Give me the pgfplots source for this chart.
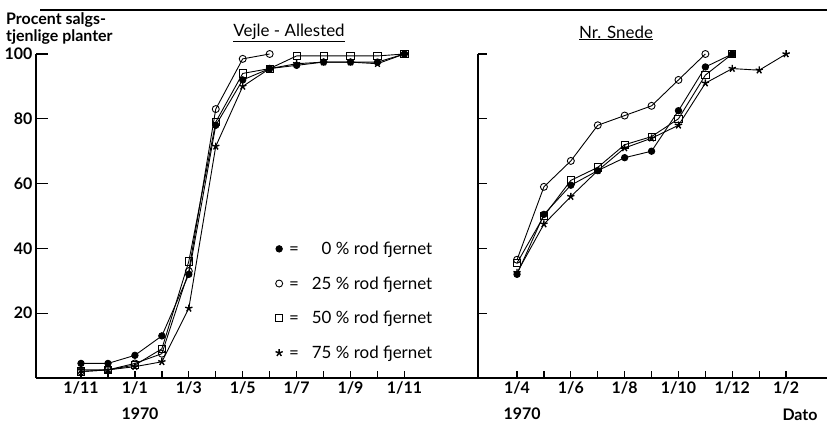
\documentclass[border=0pt]{standalone}
\usepackage{fontspec}
\setmainfont{Lato}
\usepackage{pgfplots}
\pgfplotsset{compat=1.18}
\pgfplotsset{
  panel/.style={
    scale only axis, anchor=south west, height=324bp,
    ymin=0, ymax=100, axis lines*=left,
    axis line style={line width=1.6pt,-},
    tick align=inside, xtick pos=bottom, ytick pos=left,
    ytick={20,40,60,80,100},
    minor tick length=7bp,
    tick style={black, line width=1.3pt},
    major x tick style={draw=none},
    tick label style={font=\fontsize{16}{18}\selectfont\bfseries},
    /pgf/number format/assume math mode=true,
    clip=false,
    every axis plot/.append style={black, line width=0.9pt, mark size=3.2bp},
  },
  s0/.style={mark=*, mark options={solid, fill=black}},
  s25/.style={mark=o, mark size=3.5bp, mark options={solid, fill=white}},
  s50/.style={mark=square, mark size=3.6bp, mark options={solid, fill=white}},
  s75/.style={mark=star, mark size=3.8bp, mark options={solid, line width=1.4pt}},
}
\begin{document}
\begin{tikzpicture}
\path[use as bounding box] (0,0) rectangle (827bp,425bp);
% left panel: Vejle - Allested (x = months after 1/11 1969)
\begin{axis}[panel, at={(36bp,47bp)}, width=442bp,
  xmin=-1.67, xmax=14.73, major tick length=12bp,
  xtick={0,2,...,12}, xticklabels={1/11,1/1,1/3,1/5,1/7,1/9,1/11},
  minor xtick={0,1,...,12},
  yticklabels={20,40,60,80,100},
  legend cell align=left,
  legend style={at={(axis cs:7.1,43.3)}, anchor=north west, draw=none, fill=none,
    font=\fontsize{17}{19}\selectfont, row sep=16.7bp},
]
\addlegendimage{only marks, s0, black, mark size=3.2bp}
\addlegendentry{\ =\ \ \ \phantom{2}0 \% rod fjernet}
\addlegendimage{only marks, s25, black}
\addlegendentry{\ =\ \ \ 25 \% rod fjernet}
\addlegendimage{only marks, s50, black}
\addlegendentry{\ =\ \ \ 50 \% rod fjernet}
\addlegendimage{only marks, s75, black}
\addlegendentry{\ =\ \ \ 75 \% rod fjernet}
\addplot[s0, forget plot] coordinates {(0,4.5)(1,4.5)(2,7)(3,13)(4,32)(5,78)(6,92)(7,95.5)(8,96.5)(9,97.5)(10,97.5)(11,97.5)(12,100)};
\addplot[s25, forget plot] coordinates {(0,2)(1,2.5)(2,4.5)(3,7.5)(4,33)(5,83)(6,98.5)(7,100)};
\addplot[s50, forget plot] coordinates {(0,2)(1,2.5)(2,4)(3,9)(4,36)(5,79)(6,94)(7,95.5)(8,99.4)(9,99.4)(10,99.4)(11,99.4)(12,100)};
\addplot[s75, forget plot] coordinates {(0,2.5)(1,2.5)(2,3.5)(3,5)(4,21.5)(5,71.5)(6,90)(7,95.5)(8,97)(9,97.5)(10,97.5)(11,97)(12,100)};
\node[font=\fontsize{17}{19}\selectfont] at (axis cs:7.72,106.5) {\underline{Vejle - Allested}};
\end{axis}
% right panel: Nr. Snede (x = months after 1/4 1970)
\begin{axis}[panel, at={(478bp,47bp)}, width=349bp,
  xmin=-1.45, xmax=11.52, major tick length=9bp,
  xtick={0,2,...,10}, xticklabels={1/4,1/6,1/8,1/10,1/12,1/2},
  minor xtick={0,1,...,10},
  yticklabels={},
]
\addplot[s0] coordinates {(0,32)(1,50.5)(2,59.5)(3,64)(4,68)(5,70)(6,82.5)(7,96)(8,100)};
\addplot[s25] coordinates {(0,36.5)(1,59)(2,67)(3,78)(4,81)(5,84)(6,92)(7,100)};
\addplot[s50] coordinates {(0,35.5)(1,50)(2,61)(3,65)(4,72)(5,74.5)(6,80)(7,93.5)(8,100)};
\addplot[s75] coordinates {(0,32.5)(1,47.5)(2,56)(3,64)(4,71)(5,74)(6,78)(7,91)(8,95.5)(9,95)(10,100)};
\node[font=\fontsize{17}{19}\selectfont] at (axis cs:3.68,106.5) {\underline{Nr. Snede}};
\end{axis}
\draw[line width=1.6pt] (40bp,415bp) -- (827bp,415bp);
\node[anchor=north west, align=left, font=\fontsize{16}{18}\selectfont\bfseries, inner sep=0pt] at (6bp,413bp) {Procent salgs-\\tjenlige planter};
\node[font=\fontsize{16}{18}\selectfont\bfseries] at (140bp,11bp) {1970};
\node[font=\fontsize{16}{18}\selectfont\bfseries] at (522bp,11bp) {1970};
\node[font=\fontsize{16}{18}\selectfont\bfseries] at (800bp,10bp) {Dato};
\end{tikzpicture}
\end{document}
